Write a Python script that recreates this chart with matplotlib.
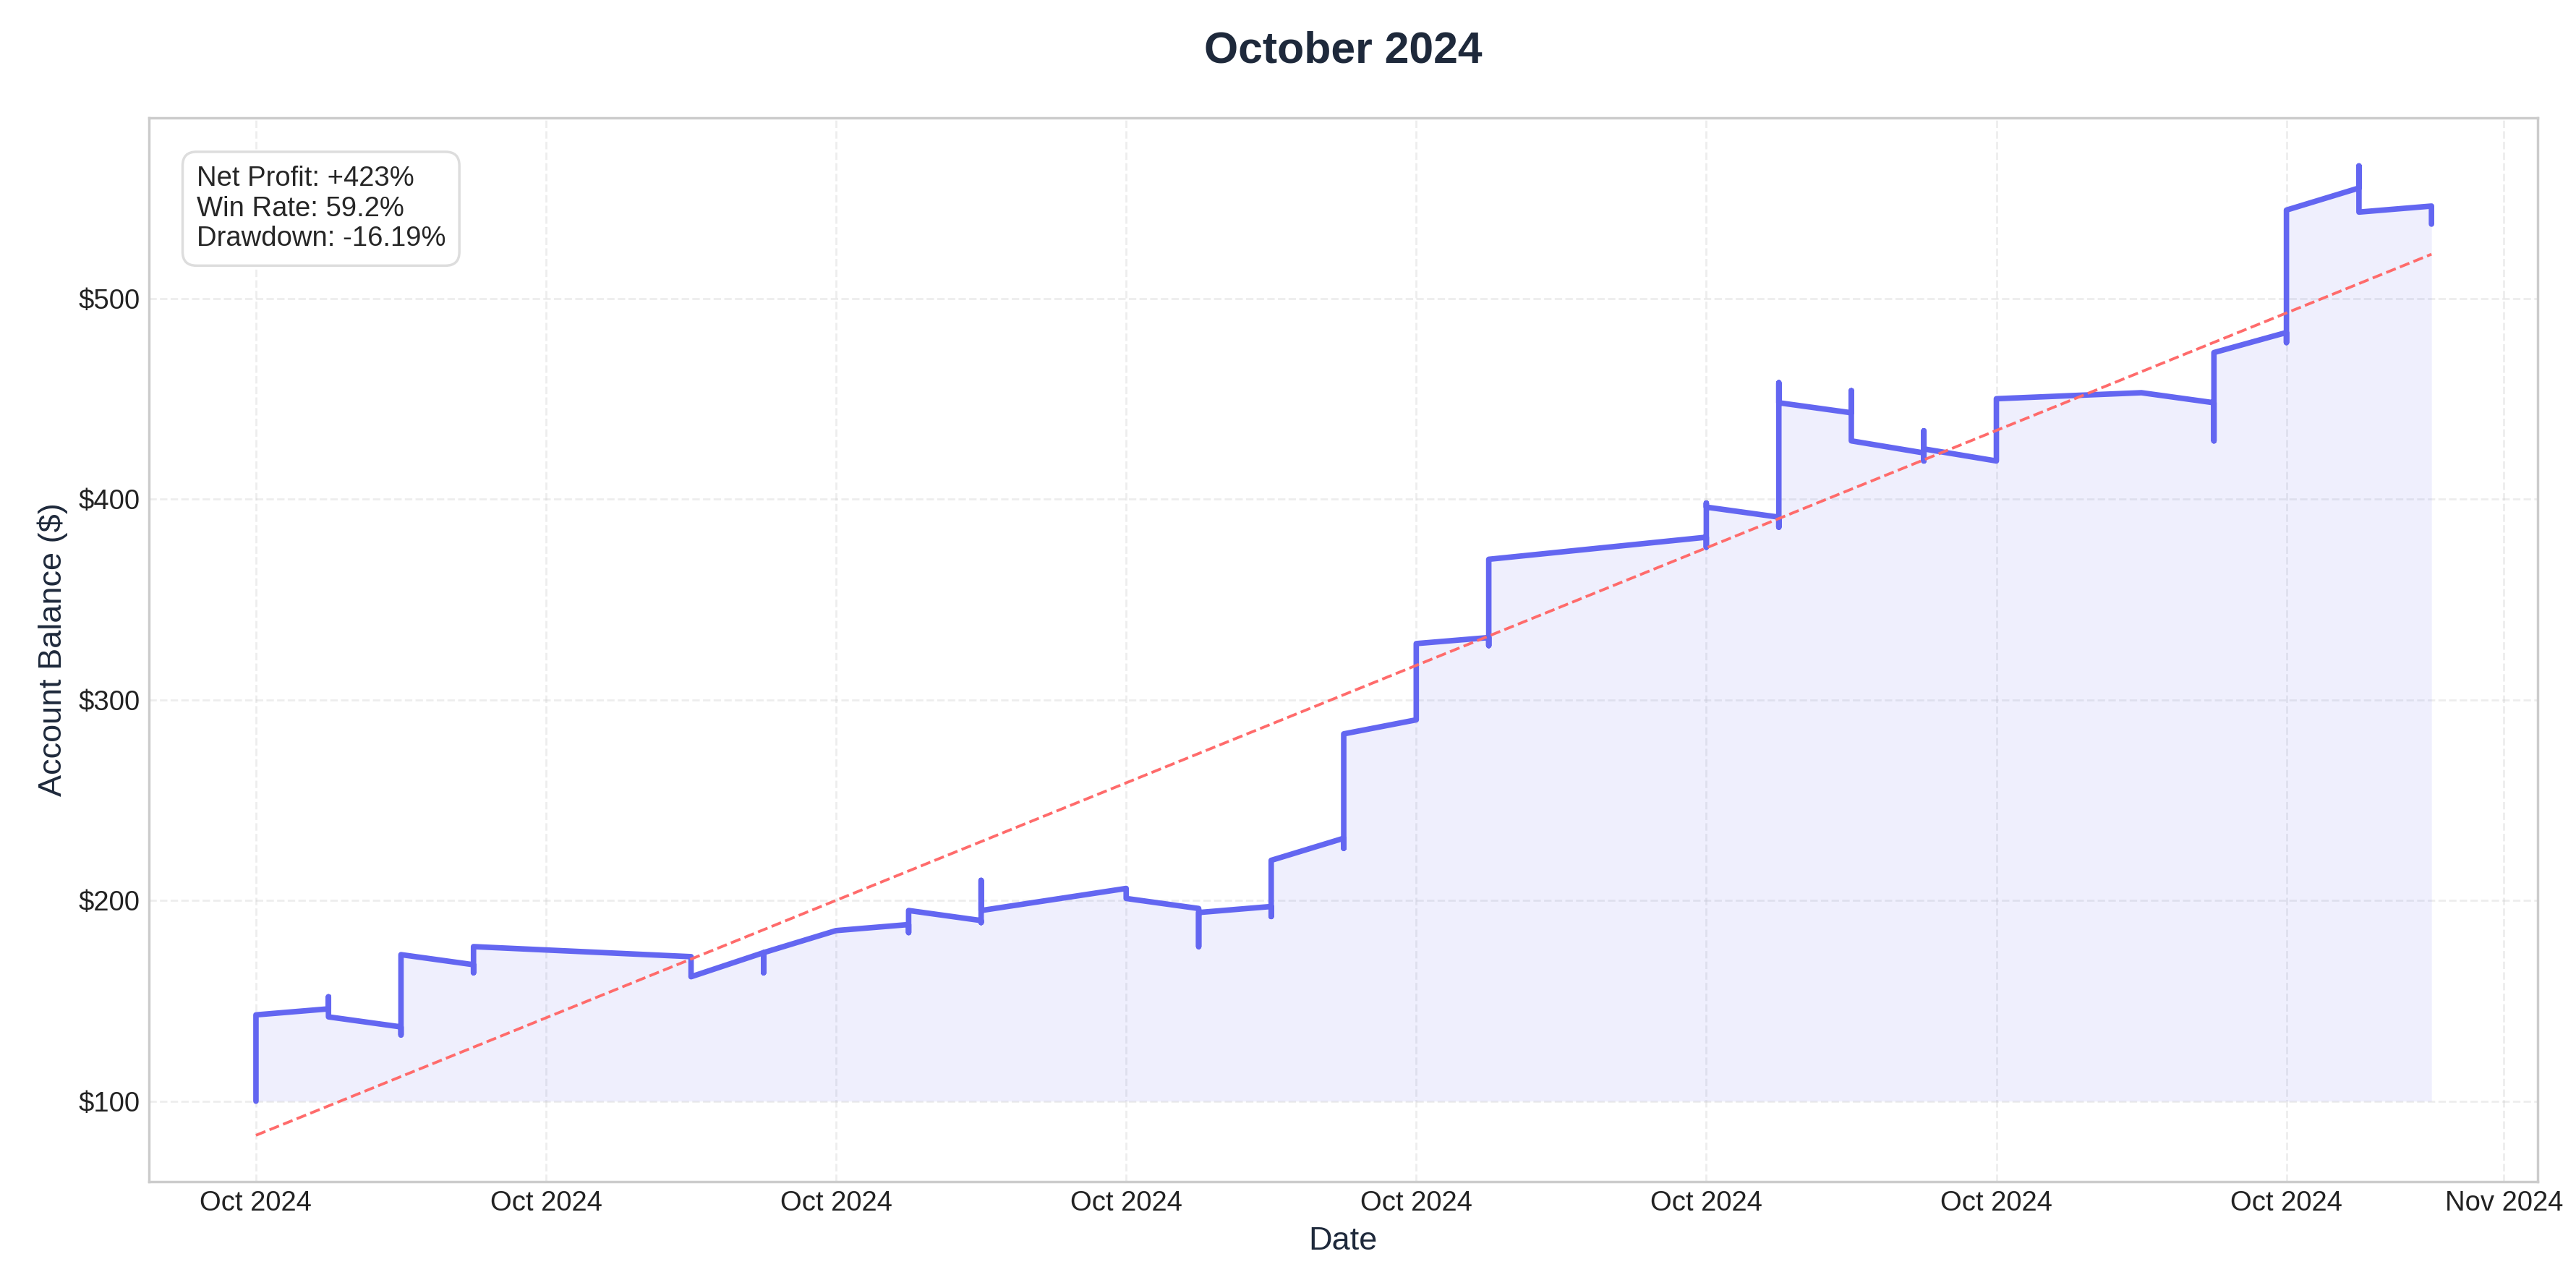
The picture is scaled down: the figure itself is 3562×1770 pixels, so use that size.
from datetime import datetime, timedelta

import matplotlib.dates as mdates
import matplotlib.pyplot as plt

START = datetime(2024, 10, 1)

# Day offset of each trade and the balance values visited at that instant
TRADE_DAYS = [0, 1, 2, 3, 6, 7, 8, 9, 10, 12, 13, 14, 15, 16, 17,
              20, 21, 22, 23, 24, 26, 27, 28, 29, 30]
TRADE_VALUES = [
    [100, 143],
    [146, 152, 142],
    [137, 133, 173],
    [168, 164, 177],
    [172, 162],
    [174, 164, 174],
    [185],
    [188, 184, 195],
    [190, 189, 210, 195],
    [206, 201],
    [196, 177, 194],
    [197, 192, 220],
    [231, 226, 283],
    [290, 328],
    [331, 327, 370],
    [381, 376, 398, 396],
    [391, 386, 458, 448],
    [443, 454, 429],
    [423, 419, 434, 425],
    [419, 450],
    [453],
    [448, 429, 473],
    [483, 478, 544],
    [555, 566, 543],
    [546, 537],
]
TREND_DAYS = [0, 30]
TREND_VALUES = [83, 522]
STATS = "Net Profit: +423%\nWin Rate: 59.2%\nDrawdown: -16.19%"

times, balances = [], []
for day, vals in zip(TRADE_DAYS, TRADE_VALUES):
    for v in vals:
        times.append(START + timedelta(days=day))
        balances.append(v)

plt.style.use("seaborn-v0_8-whitegrid")
plt.rcParams["font.family"] = ["Arial", "Liberation Sans", "DejaVu Sans"]

fig = plt.figure(figsize=(14.248, 7.08), dpi=250)
ax = fig.add_axes([0.0577, 0.077, 0.9273, 0.831])

ax.plot(times, balances, color="#6366f1", linewidth=2.2)
ax.fill_between(times, balances, 100, color="#6366f1", alpha=0.1, linewidth=0)
trend_t = [START + timedelta(days=d) for d in TREND_DAYS]
ax.plot(trend_t, TREND_VALUES, color="#ff6b6b", linestyle="--", linewidth=1.1)

ax.xaxis.set_major_locator(mdates.DayLocator(bymonthday=[1, 5, 9, 13, 17, 21, 25, 29]))
ax.xaxis.set_major_formatter(mdates.DateFormatter("%b %Y"))
ax.yaxis.set_major_formatter(plt.FuncFormatter(lambda v, p: "${:.0f}".format(v)))
ax.set_ylim(60, 590)
ax.set_xlim(START - timedelta(days=1.48), START + timedelta(days=31.46))
ax.set_yticks([100, 200, 300, 400, 500])
ax.tick_params(labelsize=11, colors="#222222")
ax.grid(True, linestyle="--", alpha=0.35)
for s in ax.spines.values():
    s.set_visible(True)
    s.set_color("#cccccc")

ax.set_title("October 2024", fontsize=17.5, fontweight="bold", color="#1e293b", pad=22)
ax.set_xlabel("Date", fontsize=13, color="#1e293b")
ax.set_ylabel("Account Balance ($)", fontsize=13, color="#1e293b")
ax.text(0.02, 0.955, STATS, transform=ax.transAxes, fontsize=11, va="top",
        bbox=dict(boxstyle="round,pad=0.5", facecolor="white", edgecolor="#dddddd"))

fig.savefig("out.png", dpi=250)
